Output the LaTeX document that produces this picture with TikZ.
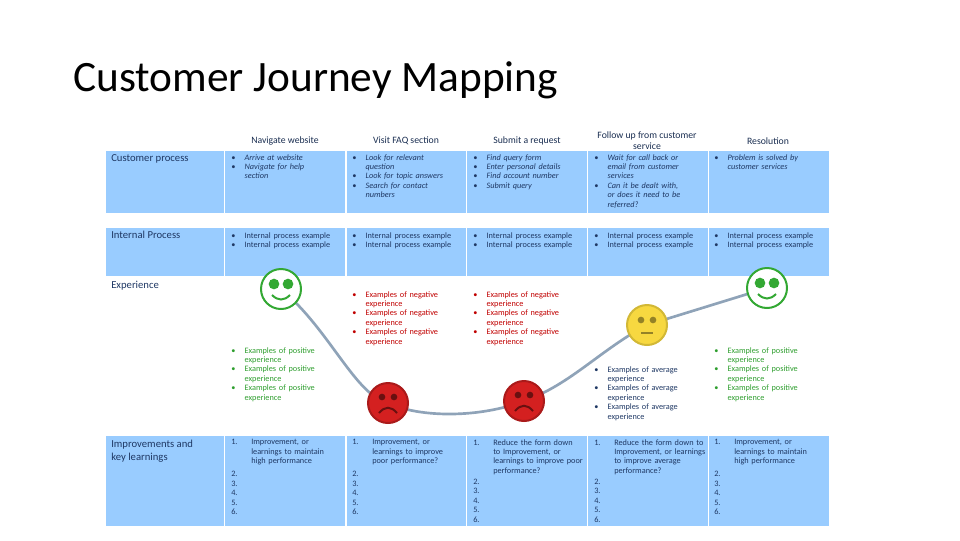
\documentclass[tikz,border=0pt]{standalone}
\usepackage{fontspec}
\setmainfont{Carlito}
\definecolor{cellblue}{HTML}{99CCFF}
\definecolor{navy}{HTML}{1F3864}
\definecolor{negred}{HTML}{C00000}
\definecolor{posgreen}{HTML}{2E9E2E}
\definecolor{facegreen}{HTML}{33A833}
\definecolor{facered}{HTML}{D42020}
\definecolor{faceyel}{HTML}{F7D840}
\definecolor{curvegray}{HTML}{8FA3B8}
\newcommand\nohy{\hyphenpenalty=10000\relax}
\newcommand\itm[1]{\noindent\hangindent=10pt\hangafter=1\makebox[10pt][l]{\textbullet}#1\par}
\newcommand\num[2]{\noindent\hangindent=15pt\hangafter=1\makebox[15pt][l]{#1}#2\par}
\tikzset{
  cell/.style={fill=cellblue,draw=white,line width=1pt,anchor=north west,inner sep=0pt},
  rowlab/.style={anchor=north west,font=\fontsize{8}{9.5}\selectfont,text=navy,align=left,inner sep=0pt},
  txt/.style={anchor=north west,font=\fontsize{6.2}{7.1}\selectfont\nohy,text=navy,text width=72pt,align=left,inner sep=0pt},
  itxt/.style={txt,font=\fontsize{6.2}{7.1}\selectfont\itshape\nohy},
  head/.style={font=\fontsize{7.3}{8.3}\selectfont,text=navy!80!black,align=center,inner sep=0pt},
  face/.style={circle,minimum size=30pt,line width=1.5pt,inner sep=0pt},
  eye/.style={circle,fill,inner sep=0pt,minimum size=6pt},
  curve/.style={draw=curvegray,line width=2pt}
}
\begin{document}
\begin{tikzpicture}[x=0.75pt,y=-0.75pt]
\useasboundingbox (0,0) rectangle (960,540);
\node[anchor=west,font=\fontsize{32.5}{35}\selectfont,inner sep=0pt] (title) at (73,80) {Customer Journey Mapping};
% headers
\foreach \x/\t [count=\i] in {285/Navigate website,406/Visit FAQ section,527/Submit a request,647/{Follow up from customer\\service},768/Resolution}
  \node[head] (h\i) at (\x,141) {\t};
% rows
\foreach \y/\h/\n in {150/47.25/cp,227/36.75/ip,435/68.25/im}{
  \node[cell,minimum width=89.25pt,minimum height=\h pt] (\n0) at (105,\y) {};
  \foreach \x [count=\i] in {224,346,466,587,708}
    \node[cell,minimum width=90.75pt,minimum height=\h pt] (\n\i) at (\x,\y) {};
}
\node[rowlab] (l1) at (111,154) {Customer process};
\node[rowlab] (l2) at (111,231) {Internal Process};
\node[rowlab] (l3) at (111,281) {Experience};
\node[rowlab] (l4) at (111,440) {Improvements and\\key learnings};
% customer process
\node[itxt] (c1) at (231,154) {\itm{Arrive at website}\itm{Navigate for help section}};
\node[itxt] (c2) at (352,154) {\itm{Look for relevant question}\itm{Look for topic answers}\itm{Search for contact numbers}};
\node[itxt] (c3) at (473,154) {\itm{Find query form}\itm{Enter personal details}\itm{Find account number}\itm{Submit query}};
\node[itxt,text width=68pt] (c4) at (594,154) {\itm{Wait for call back or email from customer services}\itm{Can it be dealt with, or does it need to be referred?}};
\node[itxt] (c5) at (714,154) {\itm{Problem is solved by customer services}};
% internal
\foreach \x [count=\i] in {231,352,473,594,714}
  \node[txt,text width=85pt] (in\i) at (\x,232) {\itm{Internal process example}\itm{Internal process example}};
% experience texts
\node[txt,text=posgreen,text width=68pt] (e1) at (231,347) {\itm{Examples of positive experience}\itm{Examples of positive experience}\itm{Examples of positive experience}};
\node[txt,text=negred,text width=68pt] (e2) at (352,291) {\itm{Examples of negative experience}\itm{Examples of negative experience}\itm{Examples of negative experience}};
\node[txt,text=negred,text width=68pt] (e3) at (473,291) {\itm{Examples of negative experience}\itm{Examples of negative experience}\itm{Examples of negative experience}};
\node[txt,text=navy,text width=68pt] (e4) at (594,366) {\itm{Examples of average experience}\itm{Examples of average experience}\itm{Examples of average experience}};
\node[txt,text=posgreen,text width=68pt] (e5) at (714,347) {\itm{Examples of positive experience}\itm{Examples of positive experience}\itm{Examples of positive experience}};
% improvements
\node[txt] (m1) at (231,439) {\num{1.}{Improvement, or learnings to maintain high performance}\vspace{3pt}\num{2.}{}\num{3.}{}\num{4.}{}\num{5.}{}\num{6.}{}};
\node[txt] (m2) at (352,439) {\num{1.}{Improvement, or learnings to improve poor performance?}\vspace{3pt}\num{2.}{}\num{3.}{}\num{4.}{}\num{5.}{}\num{6.}{}};
\node[txt,text width=84pt] (m3) at (473,439) {\num{1.}{Reduce the form down to Improvement, or learnings to improve poor performance?}\vspace{1pt}\num{2.}{}\num{3.}{}\num{4.}{}\num{5.}{}\num{6.}{}};
\node[txt,text width=84pt] (m4) at (594,439) {\num{1.}{Reduce the form down to Improvement, or learnings to improve average performance?}\vspace{1pt}\num{2.}{}\num{3.}{}\num{4.}{}\num{5.}{}\num{6.}{}};
\node[txt] (m5) at (714,439) {\num{1.}{Improvement, or learnings to maintain high performance}\vspace{3pt}\num{2.}{}\num{3.}{}\num{4.}{}\num{5.}{}\num{6.}{}};
% faces positions
\coordinate (f1) at (281,289);
\coordinate (f2) at (388,403);
\coordinate (f3) at (524,401);
\coordinate (f4) at (647,325);
\coordinate (f5) at (767,288);
% curve
\draw[curve] (f1) .. controls (330,330) and (355,395) .. (f2);
\draw[curve] (f2) .. controls (420,418) and (480,418) .. (f3);
\draw[curve] (f3) .. controls (570,385) and (600,350) .. (f4);
\draw[curve] (f4) -- (f5);
% faces
\node[face,draw=facegreen,fill=white] (g1) at (f1) {};
\node[face,draw=facered!80!black,fill=facered] (r1) at (f2) {};
\node[face,draw=facered!80!black,fill=facered] (r2) at (f3) {};
\node[face,draw=faceyel!85!black,fill=faceyel] (y1) at (f4) {};
\node[face,draw=facegreen,fill=white] (g2) at (f5) {};
\foreach \f in {g1,g2}{
  \node[eye,fill=facegreen,minimum size=8pt] at ([shift={(-7,-5)}]\f.center) {};
  \node[eye,fill=facegreen,minimum size=8pt] at ([shift={(7,-5)}]\f.center) {};
  \draw[facegreen,line width=1.5pt] ([shift={(-9,6)}]\f.center) .. controls ([shift={(-3,12)}]\f.center) and ([shift={(3,12)}]\f.center) .. ([shift={(9,6)}]\f.center);
}
\foreach \f in {r1,r2}{
  \node[eye,fill=facered!50!black,minimum size=5pt] at ([shift={(-6,-6)}]\f.center) {};
  \node[eye,fill=facered!50!black,minimum size=5pt] at ([shift={(6,-6)}]\f.center) {};
  \draw[facered!50!black,line width=1.5pt] ([shift={(-9,10)}]\f.center) .. controls ([shift={(-3,3)}]\f.center) and ([shift={(3,3)}]\f.center) .. ([shift={(9,10)}]\f.center);
}
\node[eye,fill=faceyel!60!black,minimum size=5pt] at ([shift={(-6,-5)}]y1.center) {};
\node[eye,fill=faceyel!60!black,minimum size=5pt] at ([shift={(6,-5)}]y1.center) {};
\draw[faceyel!60!black,line width=1.2pt] ([shift={(-6,8)}]y1.center) -- ([shift={(6,8)}]y1.center);
\end{tikzpicture}
\end{document}
